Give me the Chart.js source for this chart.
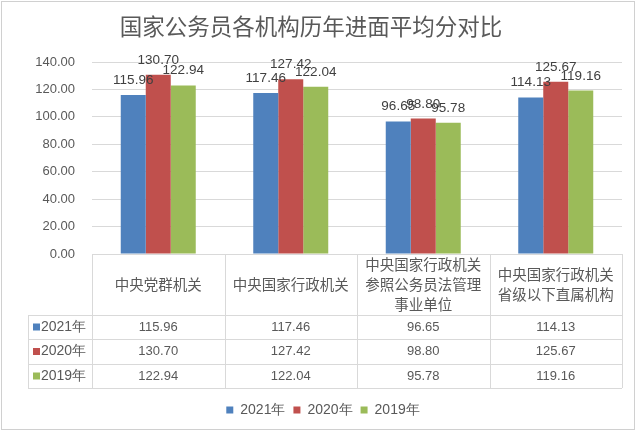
<!DOCTYPE html>
<html><head><meta charset="utf-8">
<script src="https://cdn.jsdelivr.net/npm/chart.js@4.4.1/dist/chart.umd.min.js"></script>
<style>html,body{margin:0;padding:0;background:#fff;}#wrap{width:640px;height:433px;position:relative;}</style>
</head><body><div id="wrap"><canvas id="c" width="640" height="433"></canvas></div>
<script>
const title = '国家公务员各机构历年进面平均分对比';
const categories = [['中央党群机关'], ['中央国家行政机关'], ['中央国家行政机关','参照公务员法管理','事业单位'], ['中央国家行政机关','省级以下直属机构']];
const seriesNames = ['2021年', '2020年', '2019年'];
const values2021 = [115.96, 117.46, 96.65, 114.13];
const values2020 = [130.70, 127.42, 98.80, 125.67];
const values2019 = [122.94, 122.04, 95.78, 119.16];
const yTicks = [0, 20, 40, 60, 80, 100, 120, 140];
const colors = ['#4F81BD', '#C0504D', '#9BBB59'];

const CJK = '"Noto Sans CJK SC", "Noto Sans", sans-serif';
const NUM = '"Liberation Sans", Arial, sans-serif';
const TXT = '#595959';
const LINE = '#D9D9D9';

const frame = {
  id: 'frame',
  beforeDraw(chart) {
    const ctx = chart.ctx;
    ctx.save();
    ctx.fillStyle = '#fff';
    ctx.fillRect(0, 0, chart.width, chart.height);
    ctx.strokeStyle = '#D0D0D0';
    ctx.lineWidth = 1;
    ctx.strokeRect(1.5, 1.5, 633, 428);
    ctx.restore();
  }
};

const shiftLegend = {
  id: 'shiftLegend',
  afterLayout(chart) {
    const lg = chart.legend;
    if (lg) { lg.left += 12; lg.right += 12; }
  }
};

const table = {
  id: 'table',
  afterDraw(chart) {
    const ctx = chart.ctx;
    const x = chart.scales.x, area = chart.chartArea;
    const n = categories.length;
    const step = (area.right - area.left) / n;
    const top = area.bottom;
    const rowTops = [top + 61, top + 85, top + 110, top + 134];
    const leftX = 28;
    ctx.save();
    ctx.strokeStyle = LINE;
    ctx.lineWidth = 1;
    for (let i = 0; i <= n; i++) {
      const vx = Math.round(area.left + i * step) + 0.5;
      ctx.beginPath(); ctx.moveTo(vx, top); ctx.lineTo(vx, rowTops[3]); ctx.stroke();
    }
    ctx.beginPath(); ctx.moveTo(leftX + 0.5, rowTops[0]); ctx.lineTo(leftX + 0.5, rowTops[3]); ctx.stroke();
    for (const ry of rowTops) {
      ctx.beginPath(); ctx.moveTo(leftX, Math.round(ry) + 0.5); ctx.lineTo(area.right, Math.round(ry) + 0.5); ctx.stroke();
    }
    ctx.fillStyle = TXT;
    ctx.textAlign = 'center';
    ctx.textBaseline = 'middle';
    ctx.font = '14.5px ' + CJK;
    categories.forEach((lines, i) => {
      const cx = x.getPixelForValue(i);
      const lh = 20;
      const cy = (top + rowTops[0]) / 2;
      lines.forEach((t, k) => {
        ctx.fillText(t, cx, cy + (k - (lines.length - 1) / 2) * lh);
      });
    });
    const rows = [values2021, values2020, values2019];
    rows.forEach((vals, r) => {
      const cy = (rowTops[r] + rowTops[r + 1]) / 2;
      ctx.font = '13px ' + NUM;
      ctx.fillStyle = TXT;
      ctx.textAlign = 'center';
      vals.forEach((v, i) => {
        ctx.fillText(v.toFixed(2), x.getPixelForValue(i), cy);
      });
      ctx.fillStyle = colors[r];
      ctx.fillRect(33, cy - 3.5, 7, 7);
      ctx.fillStyle = TXT;
      ctx.textAlign = 'left';
      ctx.font = '14px ' + NUM;
      ctx.fillText(seriesNames[r], 41, cy);
    });
    ctx.restore();
  }
};

const labels = {
  id: 'barlabels',
  afterDatasetsDraw(chart) {
    const ctx = chart.ctx;
    ctx.save();
    ctx.font = '13.5px ' + NUM;
    ctx.fillStyle = '#404040';
    ctx.textAlign = 'center';
    ctx.textBaseline = 'alphabetic';
    chart.data.datasets.forEach((ds, di) => {
      chart.getDatasetMeta(di).data.forEach((bar, i) => {
        ctx.fillText(ds.data[i].toFixed(2), bar.x, bar.y - 11);
      });
    });
    ctx.restore();
  }
};

new Chart(document.getElementById('c'), {
  type: 'bar',
  data: {
    labels: categories.map(c => c.join('')),
    datasets: [
      { label: seriesNames[0], data: values2021, backgroundColor: colors[0] },
      { label: seriesNames[1], data: values2020, backgroundColor: colors[1] },
      { label: seriesNames[2], data: values2019, backgroundColor: colors[2] }
    ]
  },
  options: {
    responsive: false,
    animation: false,
    devicePixelRatio: 1,
    layout: { padding: { left: 0, right: 18, top: 0, bottom: 6 } },
    datasets: { bar: { categoryPercentage: 0.566, barPercentage: 1 } },
    plugins: {
      title: { display: true, text: title, color: TXT, font: { family: CJK, size: 22.5, weight: 'normal' }, padding: { top: 13, bottom: 22 } },
      legend: { position: 'bottom', labels: { boxWidth: 7, boxHeight: 7, padding: 8, color: TXT, font: { family: NUM, size: 14 } } },
      tooltip: { enabled: false }
    },
    scales: {
      x: {
        grid: { display: false }, border: { display: false },
        ticks: { display: false },
        afterFit(s) { s.height = 141; }
      },
      y: {
        min: 0, max: 140,
        afterBuildTicks(s) { s.ticks = yTicks.map(v => ({ value: v })); },
        afterFit(s) { s.width = 92; },
        grid: { color: LINE, drawTicks: false },
        border: { display: false },
        ticks: { padding: 17, color: TXT, font: { family: NUM, size: 13 }, callback: v => Number(v).toFixed(2) }
      }
    }
  },
  plugins: [frame, shiftLegend, table, labels]
});
</script></body></html>
